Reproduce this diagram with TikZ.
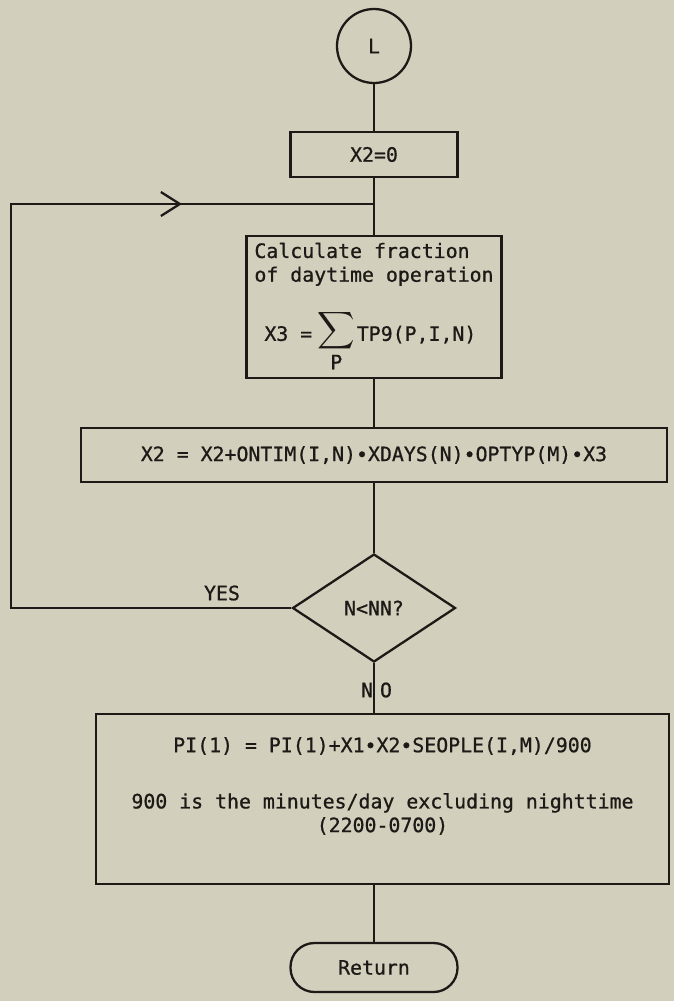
\documentclass[tikz,border=0pt]{standalone}
\usepackage{amsmath}
\usepackage{graphicx}
\usepackage{fontspec}
\setmainfont{DejaVu Sans Mono}[FakeBold=0.8]
\usetikzlibrary{shapes.geometric,arrows.meta,positioning,calc}
\definecolor{paper}{RGB}{211,207,189}
\definecolor{ink}{RGB}{28,25,22}
\newcommand{\flowfont}{\fontsize{11.3}{13.5}\selectfont}
\newcommand{\bigsum}{\mathop{\raisebox{2pt}{\scalebox{1.35}{$\displaystyle\sum$}}}\limits_{\mbox{\flowfont P}}}

\begin{document}
\begin{tikzpicture}[
    box/.style={draw=ink, line width=1.3pt, minimum height=0.9cm, align=center, inner sep=0pt, text=ink, font=\flowfont},
    flow/.style={draw=ink, line width=1.3pt},
    lbl/.style={text=ink, font=\flowfont}
]
% paper
\fill[paper] (0,0) rectangle (13.48,-20.02);

% L (entry point)
\node[circle, draw=ink, line width=1.3pt, minimum size=1.48cm, lbl] (L) at (7.48,-0.92) {L};

% X2 = 0
\node[box, minimum width=3.34cm] (init) at (7.48,-3.09) {X2=0};
\coordinate (join) at (7.48,-4.08);

% fraction of daytime operation
\node[box, minimum width=5.1cm, minimum height=2.84cm, align=left] (frac) at (7.48,-6.14) {Calculate fraction\\of daytime operation\\[0.45cm]\hspace*{0.2cm}X3 =\kern3pt$\bigsum$\kern1pt TP9(P,I,N)};

% accumulate X2
\node[box, minimum width=11.72cm, minimum height=1.08cm] (accum) at (7.48,-9.1) {X2 = X2+ONTIM(I,N)∙XDAYS(N)∙OPTYP(M)∙X3};

% N<NN? test
\node[diamond, draw=ink, line width=1.3pt, minimum width=3.26cm, minimum height=2.16cm, inner sep=0pt, lbl] (test) at (7.48,-12.16) {N<NN?};

% PI(1) update
\node[box, minimum width=11.46cm, minimum height=3.4cm] (pi) at (7.65,-15.98) {PI(1) = PI(1)+X1∙X2∙SEOPLE(I,M)/900\\[0.65cm]900 is the minutes/day excluding nighttime\\(2200-0700)\\[0.1cm]\mbox{}};

% Return
\node[box, rounded corners=0.48cm, minimum width=3.34cm, minimum height=0.98cm] (ret) at (7.48,-19.35) {Return};

% labels
\node[lbl] (yes) at (4.44,-11.86) {YES};
\node[lbl] (no) at (7.53,-13.8) {N\kern4pt O};

% loop corners
\coordinate (loopbot) at (0.22,-12.16);
\coordinate (looptop) at (0.22,-4.08);
\coordinate (arrowpt) at (3.64,-4.08);

% connectors
\draw[flow] (L) -- (init);
\draw[flow] (init) -- (frac);
\draw[flow] (frac) -- (accum);
\draw[flow] (accum) -- (test);
\draw[flow] (test.south) -- (test.south |- pi.north);
\draw[flow] (pi.south -| ret.north) -- (ret.north);
\draw[flow] (test.west) -- (loopbot) -- (looptop) -- (join);
\draw[flow, -{Straight Barb[length=0.38cm, width=0.48cm]}] (looptop) -- (arrowpt);

\end{tikzpicture}
\end{document}
